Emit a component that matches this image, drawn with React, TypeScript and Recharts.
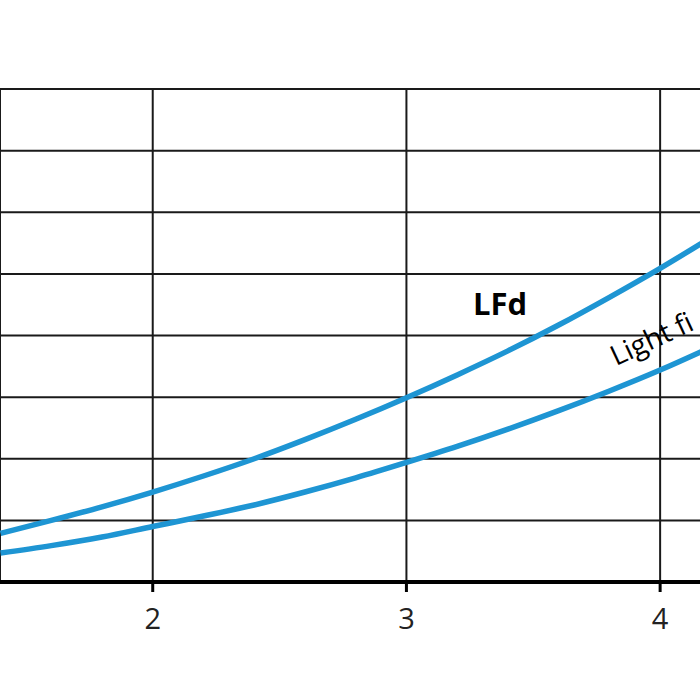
import {
  CartesianGrid,
  Line,
  LineChart,
  ReferenceDot,
  XAxis,
  YAxis,
} from "recharts";

const xs = [1.4, 1.6, 1.8, 2.0, 2.2, 2.4, 2.6, 2.8, 3.0, 3.2, 3.4, 3.6, 3.8, 4.0, 4.2];
const lfd = [0.79, 1.0, 1.22, 1.46, 1.72, 2.0, 2.31, 2.64, 2.99, 3.36, 3.75, 4.17, 4.62, 5.09, 5.59];
const lightFitting = [0.47, 0.59, 0.73, 0.9, 1.07, 1.25, 1.46, 1.69, 1.94, 2.2, 2.48, 2.78, 3.1, 3.44, 3.81];
const xTicks = [2, 3, 4];
const yTicks = [0, 1, 2, 3, 4, 5, 6, 7, 8];

const data = xs.map((x, i) => ({ x, lfd: lfd[i], light: lightFitting[i] }));

const font = "'Open Sans', 'Noto Sans', sans-serif";
const blue = "#1e95d3";

export default function App() {
  return (
    <div
      style={{
        position: "absolute",
        left: 0,
        top: 0,
        width: 700,
        height: 700,
        overflow: "hidden",
        background: "#fff",
      }}
    >
      <LineChart
        width={720}
        height={700}
        data={data}
        margin={{ top: 89, right: 0, left: 0, bottom: 0 }}
      >
        <CartesianGrid stroke="#1a1a1a" strokeWidth={2} />
        <XAxis
          type="number"
          dataKey="x"
          domain={[1.398, 4.236]}
          ticks={xTicks}
          allowDataOverflow
          height={118}
          axisLine={{ stroke: "#000", strokeWidth: 4 }}
          tickLine={{ stroke: "#000", strokeWidth: 3 }}
          tickSize={10}
          tickMargin={16}
          tick={{ fontSize: 29, fill: "#222", fontFamily: font }}
        />
        <YAxis hide domain={[0, 8]} ticks={yTicks} allowDataOverflow />
        <Line
          type="monotone"
          dataKey="lfd"
          stroke={blue}
          strokeWidth={5.5}
          dot={false}
          isAnimationActive={false}
        />
        <Line
          type="monotone"
          dataKey="light"
          stroke={blue}
          strokeWidth={5.5}
          dot={false}
          isAnimationActive={false}
        />
        <ReferenceDot
          x={3.369}
          y={4.52}
          r={0}
          shape={(p: any) => (
            <text
              x={p.cx}
              y={p.cy}
              textAnchor="middle"
              dominantBaseline="central"
              fontFamily={font}
              fontWeight="bold"
              fontSize={31}
              fill="#000"
            >
              LFd
            </text>
          )}
        />
        <ReferenceDot
          x={3.826}
          y={3.5}
          r={0}
          shape={(p: any) => (
            <text
              x={p.cx}
              y={p.cy}
              transform={`rotate(-25 ${p.cx} ${p.cy})`}
              textAnchor="start"
              fontFamily={font}
              fontSize={28}
              fill="#000"
            >
              Light fi
            </text>
          )}
        />
      </LineChart>
    </div>
  );
}
